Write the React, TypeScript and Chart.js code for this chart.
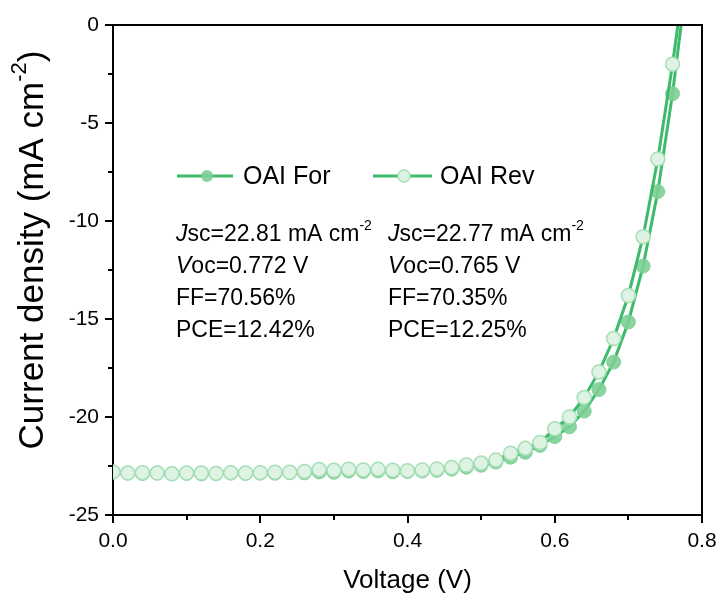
import React, { useEffect, useRef } from 'react';
import { Chart, registerables } from 'chart.js';

Chart.register(...registerables);

const voltage = [0, 0.02, 0.04, 0.06, 0.08, 0.1, 0.12, 0.14, 0.16, 0.18, 0.2, 0.22, 0.24, 0.26, 0.28, 0.3, 0.32, 0.34, 0.36, 0.38, 0.4, 0.42, 0.44, 0.46, 0.48, 0.5, 0.52, 0.54, 0.56, 0.58, 0.6, 0.62, 0.64, 0.66, 0.68, 0.7, 0.72, 0.74, 0.76, 0.78];
const forJ = [-22.81, -22.86, -22.88, -22.86, -22.9, -22.88, -22.9, -22.88, -22.86, -22.88, -22.86, -22.87, -22.84, -22.85, -22.8, -22.82, -22.76, -22.78, -22.75, -22.79, -22.78, -22.76, -22.72, -22.66, -22.56, -22.46, -22.3, -22.05, -21.8, -21.45, -21.0, -20.5, -19.7, -18.6, -17.2, -15.15, -12.3, -8.5, -3.5, 2.5];
const revJ = [-22.8, -22.86, -22.84, -22.86, -22.9, -22.86, -22.86, -22.88, -22.84, -22.86, -22.84, -22.82, -22.82, -22.78, -22.68, -22.72, -22.66, -22.7, -22.66, -22.72, -22.74, -22.7, -22.65, -22.58, -22.45, -22.35, -22.2, -21.85, -21.6, -21.3, -20.6, -20.0, -19.0, -17.7, -16.0, -13.8, -10.8, -6.84, -2.0, 3.5];

const seriesNames = ['OAI For', 'OAI Rev'];
const xMinorTicks = [0.1, 0.3, 0.5, 0.7];
const yMinorTicks = [-2.5, -7.5, -12.5, -17.5, -22.5];
const forStats = [
  [{ t: 'J', i: true }, { t: 'sc=22.81 mA cm' }, { t: '-2', sup: true }],
  [{ t: 'V', i: true }, { t: 'oc=0.772 V' }],
  [{ t: 'FF=70.56%' }],
  [{ t: 'PCE=12.42%' }],
];
const revStats = [
  [{ t: 'J', i: true }, { t: 'sc=22.77 mA cm' }, { t: '-2', sup: true }],
  [{ t: 'V', i: true }, { t: 'oc=0.765 V' }],
  [{ t: 'FF=70.35%' }],
  [{ t: 'PCE=12.25%' }],
];

const FONT = '"Liberation Sans", Arial, sans-serif';
const LINE = '#3dbb6b';
const FOR_FILL = 'rgba(125,207,150,0.9)';
const REV_FILL = '#dff3e5';
const REV_BORDER = '#a6dfb6';

type Run = { t: string; i?: boolean; sup?: boolean };

function drawRuns(ctx: CanvasRenderingContext2D, x: number, y: number, runs: Run[], size: number) {
  let cx = x;
  ctx.textBaseline = 'middle';
  ctx.textAlign = 'left';
  for (const r of runs) {
    const s = r.sup ? Math.round(size * 0.62) : size;
    ctx.font = `${r.i ? 'italic ' : ''}${s}px ${FONT}`;
    ctx.fillText(r.t, cx, r.sup ? y - size * 0.38 : y);
    cx += ctx.measureText(r.t).width;
  }
  return cx - x;
}

function measureRuns(ctx: CanvasRenderingContext2D, runs: Run[], size: number) {
  let w = 0;
  for (const r of runs) {
    const s = r.sup ? Math.round(size * 0.62) : size;
    ctx.font = `${r.i ? 'italic ' : ''}${s}px ${FONT}`;
    w += ctx.measureText(r.t).width;
  }
  return w;
}

const deco = {
  id: 'deco',
  afterDraw(chart: any) {
    const ctx: CanvasRenderingContext2D = chart.ctx;
    const { left, right, top, bottom } = chart.chartArea;
    const xs = chart.scales.x;
    const ys = chart.scales.y;
    ctx.save();
    ctx.strokeStyle = '#000';
    ctx.lineWidth = 2;
    ctx.beginPath();
    ctx.moveTo(left - 1, top);
    ctx.lineTo(right, top);
    ctx.lineTo(right, bottom + 1);
    ctx.stroke();
    ctx.beginPath();
    xMinorTicks.forEach((v) => {
      const px = Math.round(xs.getPixelForValue(v));
      ctx.moveTo(px, bottom);
      ctx.lineTo(px, bottom + 5);
    });
    yMinorTicks.forEach((v) => {
      const py = Math.round(ys.getPixelForValue(v));
      ctx.moveTo(left, py);
      ctx.lineTo(left - 5, py);
    });
    ctx.stroke();

    ctx.fillStyle = '#000';
    // x title
    ctx.font = `26px ${FONT}`;
    ctx.textAlign = 'center';
    ctx.textBaseline = 'middle';
    ctx.fillText('Voltage (V)', (left + right) / 2, 581);

    // y title rotated
    ctx.save();
    ctx.translate(33, 0);
    ctx.rotate(-Math.PI / 2);
    const yRuns: Run[] = [{ t: 'Current density (mA cm' }, { t: '-2', sup: true }, { t: ')' }];
    const size = 35;
    const w = measureRuns(ctx, yRuns, size);
    const cy = 250;
    drawRuns(ctx, -cy - w / 2, 0, yRuns, size);
    ctx.restore();

    // legend
    const ly = 176;
    ctx.strokeStyle = LINE;
    ctx.lineWidth = 3;
    ctx.beginPath();
    ctx.moveTo(177, ly);
    ctx.lineTo(233, ly);
    ctx.moveTo(373, ly);
    ctx.lineTo(432, ly);
    ctx.stroke();
    ctx.beginPath();
    ctx.arc(207, ly, 6, 0, Math.PI * 2);
    ctx.fillStyle = FOR_FILL;
    ctx.fill();
    ctx.beginPath();
    ctx.arc(404, ly, 6, 0, Math.PI * 2);
    ctx.fillStyle = REV_FILL;
    ctx.fill();
    ctx.lineWidth = 1.5;
    ctx.strokeStyle = REV_BORDER;
    ctx.stroke();
    ctx.fillStyle = '#000';
    ctx.font = `25px ${FONT}`;
    ctx.textAlign = 'left';
    ctx.textBaseline = 'middle';
    ctx.fillText(seriesNames[0], 243, ly + 1);
    ctx.fillText(seriesNames[1], 440, ly + 1);

    // stats
    const rows = [235, 267, 299, 331];
    forStats.forEach((r, k) => drawRuns(ctx, 176, rows[k], r as Run[], 23));
    revStats.forEach((r, k) => drawRuns(ctx, 388, rows[k], r as Run[], 23));
    ctx.restore();
  },
};

export default function App() {
  const ref = useRef<HTMLCanvasElement>(null);
  useEffect(() => {
    if (!ref.current) return;
    const chart = new Chart(ref.current, {
      type: 'line',
      data: {
        datasets: [
          {
            label: seriesNames[0],
            data: voltage.map((v, i) => ({ x: v, y: forJ[i] })),
            borderColor: LINE,
            borderWidth: 3,
            pointRadius: 7,
            pointBackgroundColor: FOR_FILL,
            pointBorderColor: FOR_FILL,
            pointBorderWidth: 1,
            order: 1,
          },
          {
            label: seriesNames[1],
            data: voltage.map((v, i) => ({ x: v, y: revJ[i] })),
            borderColor: LINE,
            borderWidth: 3,
            pointRadius: 7,
            pointBackgroundColor: REV_FILL,
            pointBorderColor: REV_BORDER,
            pointBorderWidth: 1.5,
            order: 0,
          },
        ],
      },
      options: {
        animation: false,
        responsive: false,
        maintainAspectRatio: false,
        devicePixelRatio: 1,
        layout: { padding: { left: 0, top: 25, right: 21, bottom: 0 } },
        plugins: { legend: { display: false }, tooltip: { enabled: false } },
        scales: {
          x: {
            type: 'linear',
            min: 0,
            max: 0.8,
            afterFit: (s: any) => { s.height = 91; },
            border: { display: true, color: '#000', width: 2 },
            grid: { display: true, drawOnChartArea: false, drawTicks: true, tickLength: 8, color: '#000', lineWidth: 2 },
            ticks: {
              stepSize: 0.2,
              padding: 6,
              color: '#000',
              font: { family: FONT, size: 21 },
              callback: (v: any) => Number(v).toFixed(1),
            },
          },
          y: {
            type: 'linear',
            min: -25,
            max: 0,
            afterFit: (s: any) => { s.width = 113; },
            border: { display: true, color: '#000', width: 2 },
            grid: { display: true, drawOnChartArea: false, drawTicks: true, tickLength: 8, color: '#000', lineWidth: 2 },
            ticks: {
              stepSize: 5,
              padding: 6,
              color: '#000',
              font: { family: FONT, size: 21 },
            },
          },
        },
      },
      plugins: [deco],
    });
    return () => chart.destroy();
  }, []);
  return (
    <div style={{ position: 'fixed', left: 0, top: 0, width: 723, height: 606, background: '#fff' }}>
      <canvas ref={ref} width={723} height={606} style={{ width: 723, height: 606 }} />
    </div>
  );
}
